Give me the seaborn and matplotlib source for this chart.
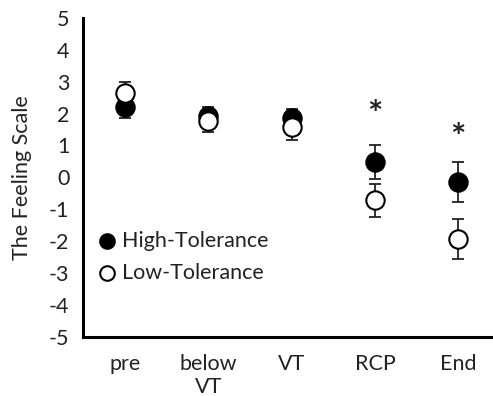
import matplotlib
matplotlib.use("Agg")
import matplotlib.pyplot as plt
import seaborn as sns
import pandas as pd
import numpy as np

categories = ["pre", "below\nVT", "VT", "RCP", "End"]
high_mean = [2.2, 1.92, 1.85, 0.48, -0.15]
high_err = [0.35, 0.3, 0.3, 0.52, 0.63]
low_mean = [2.63, 1.77, 1.58, -0.72, -1.93]
low_err = [0.37, 0.35, 0.4, 0.52, 0.63]
star_cats = ["RCP", "End"]
star_y = [1.95, 1.23]
yticks = list(range(-5, 6))

sns.set_style("white")
plt.rcParams['font.family'] = ['Lato', 'DejaVu Sans']

fig = plt.figure(figsize=(4.93, 3.96), dpi=100)
ax = fig.add_axes([0.169, 0.149, 0.845, 0.806])

x = np.arange(len(categories))
df = pd.DataFrame({
    "x": np.concatenate([x, x]),
    "y": high_mean + low_mean,
    "err": high_err + low_err,
    "group": ["High-Tolerance"] * len(x) + ["Low-Tolerance"] * len(x),
})

for g, face in [("High-Tolerance", "black"), ("Low-Tolerance", "white")]:
    d = df[df.group == g]
    ax.errorbar(d.x, d.y, yerr=d.err, fmt="none", ecolor="#222222",
                elinewidth=1.3, capsize=4.5, capthick=1.3, zorder=2)
    sns.scatterplot(x=d.x, y=d.y, ax=ax, s=175, color=face,
                    edgecolor="black", linewidth=1.5, zorder=3, label=g,
                    legend=False)

for c, sy in zip(star_cats, star_y):
    ax.text(categories.index(c), sy, "*", ha="center", va="center",
            fontsize=26, fontweight="bold", color="#222222")

ax.set_xlim(-0.5, 4.5)
ax.set_ylim(-5, 5)
ax.set_xticks(x)
ax.set_xticklabels(categories, fontsize=15.5, color="#222222", linespacing=1.2)
ax.set_yticks(yticks)
ax.set_yticklabels([str(t) for t in yticks], fontsize=15.5, color="#222222")
ax.tick_params(axis="x", length=0, pad=12)
ax.tick_params(axis="y", length=0, pad=10)
ax.set_xlabel("")
ax.set_ylabel("The Feeling Scale", fontsize=15.5, color="#222222", labelpad=12)
for s in ["top", "right"]:
    ax.spines[s].set_visible(False)
for s in ["left", "bottom"]:
    ax.spines[s].set_color("black")
    ax.spines[s].set_linewidth(2.2)

ax.scatter([-0.22], [-2.0], s=110, color="black", edgecolor="black", linewidth=1.5, zorder=3)
ax.scatter([-0.22], [-3.0], s=110, color="white", edgecolor="black", linewidth=1.5, zorder=3)
ax.text(-0.03, -2.0, "High-Tolerance", va="center", ha="left", fontsize=15.5, color="#222222")
ax.text(-0.03, -3.0, "Low-Tolerance", va="center", ha="left", fontsize=15.5, color="#222222")

fig.savefig("out.png", dpi=100)
